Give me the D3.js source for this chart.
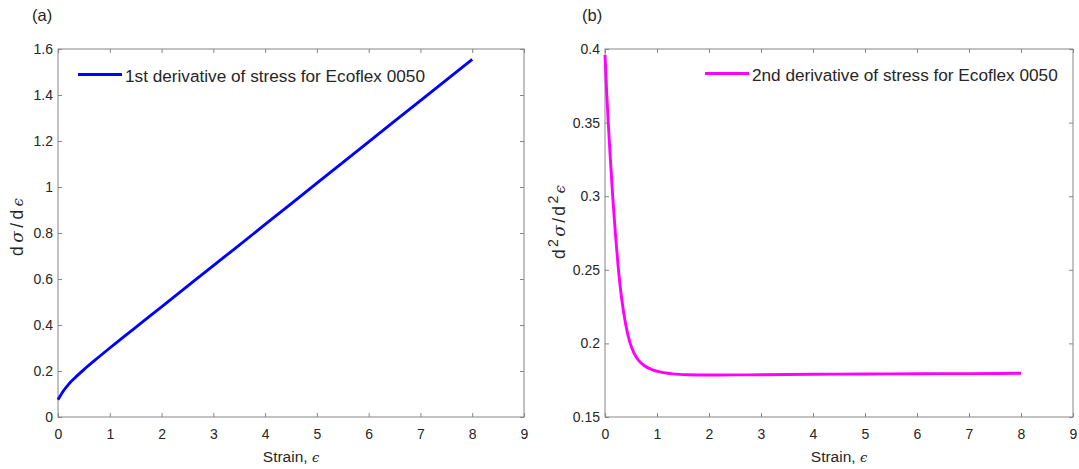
<!DOCTYPE html>
<html><head><meta charset="utf-8">
<script src="https://cdn.jsdelivr.net/npm/d3@7"></script>
<style>body{margin:0;background:#fff}svg{display:block}</style>
</head><body><svg id="c" width="1079" height="469"></svg>
<script>
// ---- data ----
const strainA = [0, 0.1, 0.2, 0.33, 0.5, 0.714, 1.0, 1.5, 2, 3, 4, 5, 6, 7, 8];
const firstDeriv = [0.075, 0.112, 0.141, 0.171, 0.206, 0.247, 0.300, 0.390, 0.479, 0.658, 0.837, 1.017, 1.196, 1.376, 1.555];
const strainB = [0, 0.03, 0.064, 0.1, 0.148, 0.2, 0.256, 0.32, 0.4, 0.48, 0.56, 0.65, 0.75, 0.9, 1.05, 1.3, 1.6, 2, 2.5, 3, 4, 5, 6, 7, 8];
const secondDeriv = [0.396, 0.372, 0.349, 0.327, 0.300, 0.2745, 0.251, 0.2305, 0.2125, 0.2005, 0.1932, 0.1883, 0.1850, 0.1822, 0.1806, 0.1793, 0.1787, 0.1785, 0.1786, 0.1787, 0.1790, 0.1792, 0.1794, 0.1795, 0.1797];
const xTickVals = [0, 1, 2, 3, 4, 5, 6, 7, 8, 9];
const yTickValsA = [0, 0.2, 0.4, 0.6, 0.8, 1, 1.2, 1.4, 1.6];
const yTickLabelsA = ["0", "0.2", "0.4", "0.6", "0.8", "1", "1.2", "1.4", "1.6"];
const yTickValsB = [0.15, 0.2, 0.25, 0.3, 0.35, 0.4];
const yTickLabelsB = ["0.15", "0.2", "0.25", "0.3", "0.35", "0.4"];
const legendA = "1st derivative of stress for Ecoflex 0050";
const legendB = "2nd derivative of stress for Ecoflex 0050";
const titles = ["(a)", "(b)"];

const svg = d3.select("#c");
const FONT = "'Liberation Sans', Arial, sans-serif";
const SERIF = "'DejaVu Serif', 'Liberation Serif', serif";
const AXC = "#868686", TXC = "#262626";

function panel(cfg) {
  const x = d3.scaleLinear().domain([0, 9]).range([cfg.left, cfg.right]);
  const y = d3.scaleLinear().domain(cfg.ydom).range([417, 49]);
  const g = svg.append("g");

  const fmtX = d => String(d);
  const fmtY = (d, i) => cfg.ylabels[i];

  const styleAxis = sel => {
    sel.select(".domain").remove();
    sel.selectAll(".tick line").attr("stroke", AXC);
    sel.selectAll(".tick text").attr("fill", TXC).style("font-family", FONT).style("font-size", "14px");
  };
  g.append("g").attr("transform", `translate(0,417)`)
    .call(d3.axisBottom(x).tickValues(xTickVals).tickFormat(fmtX).tickSizeInner(-4).tickSizeOuter(0).tickPadding(12))
    .call(styleAxis);
  g.append("g").attr("transform", `translate(0,49)`)
    .call(d3.axisTop(x).tickValues(xTickVals).tickFormat("").tickSizeInner(-4).tickSizeOuter(0))
    .call(styleAxis);
  g.append("g").attr("transform", `translate(${cfg.left},0)`)
    .call(d3.axisLeft(y).tickValues(cfg.yticks).tickFormat(fmtY).tickSizeInner(-4).tickSizeOuter(0).tickPadding(5))
    .call(styleAxis);
  g.append("g").attr("transform", `translate(${cfg.right},0)`)
    .call(d3.axisRight(y).tickValues(cfg.yticks).tickFormat("").tickSizeInner(-4).tickSizeOuter(0))
    .call(styleAxis);

  g.append("rect").attr("x", cfg.left).attr("y", 49)
    .attr("width", cfg.right - cfg.left).attr("height", 417 - 49)
    .attr("fill", "none").attr("stroke", AXC).attr("stroke-width", 1);

  const line = d3.line().x(d => x(d[0])).y(d => y(d[1])).curve(d3.curveMonotoneX);
  g.append("path").datum(cfg.xs.map((v, i) => [v, cfg.ys[i]]))
    .attr("d", line).attr("fill", "none").attr("stroke", cfg.color)
    .attr("stroke-width", 2.9).attr("stroke-linejoin", "round");

  // legend
  g.append("line").attr("x1", cfg.lx).attr("x2", cfg.lx + 44)
    .attr("y1", cfg.ly).attr("y2", cfg.ly).attr("stroke", cfg.color).attr("stroke-width", 2.9);
  g.append("text").attr("x", cfg.lx + 47).attr("y", cfg.ly + 7)
    .style("font-family", FONT).style("font-size", "17.2px").attr("fill", TXC).text(cfg.legend);

  // x label
  const xl = g.append("text").attr("x", (cfg.left + cfg.right) / 2).attr("y", 462)
    .attr("text-anchor", "middle").style("font-family", FONT).style("font-size", "15.5px").attr("fill", TXC);
  xl.append("tspan").text("Strain, ");
  xl.append("tspan").style("font-family", SERIF).style("font-style", "italic").style("font-size", "13px").text("ϵ");

  // title
  g.append("text").attr("x", cfg.tx).attr("y", 20.5).style("font-family", FONT).style("font-size", "16.5px")
    .attr("fill", TXC).text(cfg.title);

  return g;
}

panel({left: 58, right: 524, ydom: [0, 1.6], yticks: yTickValsA, ylabels: yTickLabelsA,
  xs: strainA, ys: firstDeriv, color: "#0000ff", legend: legendA, lx: 78, ly: 74.5, title: titles[0], tx: 32});
panel({left: 605, right: 1073, ydom: [0.15, 0.4], yticks: yTickValsB, ylabels: yTickLabelsB,
  xs: strainB, ys: secondDeriv, color: "#ff00ff", legend: legendB, lx: 705, ly: 73.5, title: titles[1], tx: 582});

// y labels
const ylA = svg.append("text").attr("transform", "translate(22.5,227) rotate(-90)")
  .attr("text-anchor", "middle").attr("textLength", 58).attr("lengthAdjust", "spacing")
  .style("font-family", FONT).style("font-size", "17.5px").attr("fill", TXC);
ylA.append("tspan").text("d");
ylA.append("tspan").style("font-family", SERIF).style("font-style", "italic").style("font-size", "17px").text("σ");
ylA.append("tspan").text("/d");
ylA.append("tspan").style("font-family", SERIF).style("font-style", "italic").style("font-size", "15px").text("ϵ");

const ylB = svg.append("text").attr("transform", "translate(564.5,222) rotate(-90)")
  .attr("text-anchor", "middle").attr("textLength", 74).attr("lengthAdjust", "spacing")
  .style("font-family", FONT).style("font-size", "17.5px").attr("fill", TXC);
ylB.append("tspan").text("d");
ylB.append("tspan").attr("dy", -7).style("font-size", "14px").text("2");
ylB.append("tspan").attr("dy", 7).style("font-family", SERIF).style("font-style", "italic").style("font-size", "17px").text("σ");
ylB.append("tspan").text("/d");
ylB.append("tspan").attr("dy", -7).style("font-size", "14px").text("2");
ylB.append("tspan").attr("dy", 7).style("font-family", SERIF).style("font-style", "italic").style("font-size", "15px").text("ϵ");
</script>
</body></html>
